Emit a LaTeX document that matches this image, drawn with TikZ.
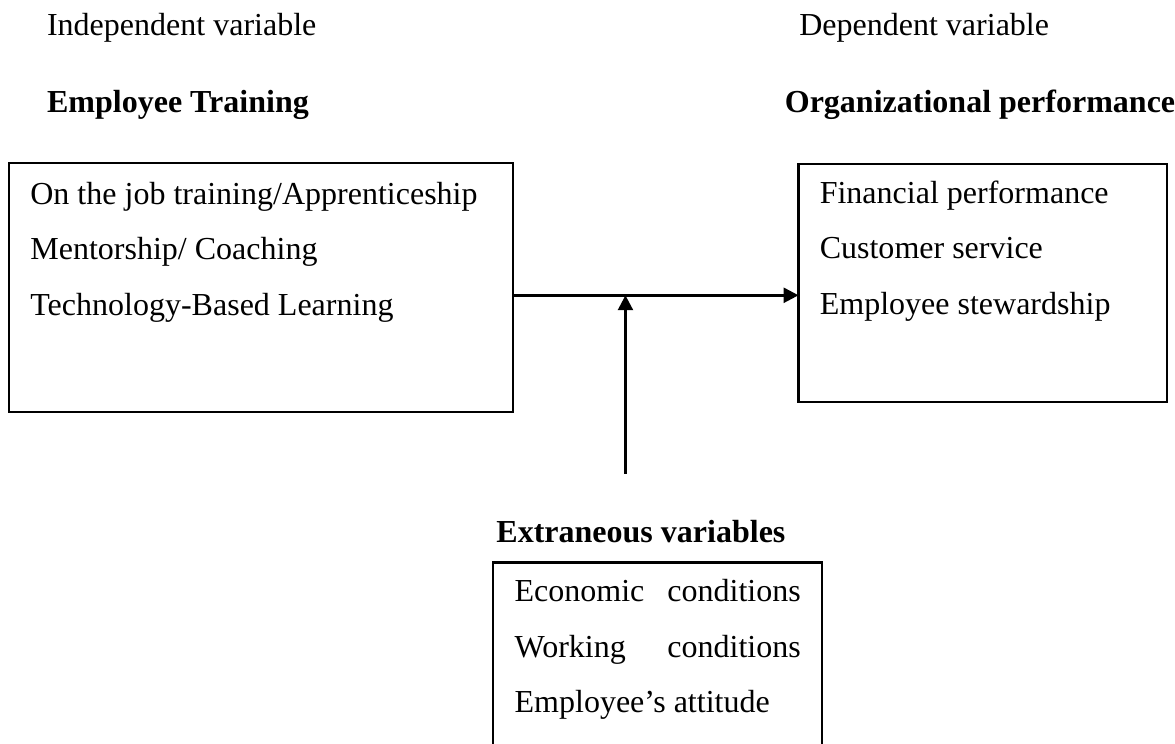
\documentclass[tikz,border=0pt]{standalone}
\usepackage{fontspec}
\setmainfont{Liberation Serif}
\usepackage{tikz}
\usetikzlibrary{arrows.meta}
\usetikzlibrary{positioning}
\tikzset{
% Define standard arrow tip
>={Triangle[length=5.6pt, width=5.6pt]}
}

\begin{document}
\begin{tikzpicture}[line width=0.8pt, inner sep=0, outer sep=0,
    every node/.style={font=\fontsize{12}{20.8}\selectfont}]
  \useasboundingbox (0, 0) rectangle (15.48, -9.80);

  \node[rectangle, draw=black,
    anchor=north west,
    minimum height = 3.28cm,
    minimum width = 6.64cm] (train) at (0.12, -2.15) {};
  \node[rectangle, draw=black,
    anchor=north west,
    minimum height = 3.14cm,
    minimum width = 4.85cm] (perf) at (10.52, -2.16) {};
  \node[rectangle, draw=black,
    anchor=north west,
    minimum height = 2.7cm,
    minimum width = 4.33cm] (extra) at (6.50, -7.41) {};

  % column headings
  \node[anchor=base west] (indep) at (0.62, -0.47) {Independent variable};
  \node[anchor=base west] (train-title) at (0.62, -1.48) {\textbf{Employee Training}};
  \node[anchor=base west] (dep) at (10.53, -0.47) {Dependent variable};
  \node[anchor=base west] (perf-title) at (10.34, -1.48) {\textbf{Organizational performance}};
  \node[anchor=base west] (extra-title) at ([xshift=0.04cm, yshift=0.26cm]extra.north west) {\textbf{Extraneous variables}};

  % box contents (base = last line)
  \node[anchor=base west, align=left] (train-list) at ([xshift=0.28cm, yshift=-2.0cm]train.north west)
    {On the job training/Apprenticeship\\Mentorship/ Coaching\\Technology-Based Learning};
  \node[anchor=base west, align=left] (perf-list) at ([xshift=0.28cm, yshift=-1.98cm]perf.north west)
    {Financial performance\\Customer service\\Employee stewardship};
  \node[anchor=base west, align=left] (extra-list) at ([xshift=0.28cm, yshift=-1.98cm]extra.north west)
    {\makebox[3.77cm][s]{Economic\hfill conditions}\\\makebox[3.77cm][s]{Working\hfill conditions}\\Employee’s attitude};

  \coordinate (train-out) at ([yshift=-0.1cm]train.east);
  \draw[->, line width=1pt] (train-out) -- (train-out -| perf.west);

  % extraneous variables act on the link
  \coordinate (ext-src) at ([xshift=1.74cm, yshift=1.17cm]extra.north west);
  \draw[->, line width=1pt] (ext-src) -- (ext-src |- train-out);
\end{tikzpicture}
\end{document}
